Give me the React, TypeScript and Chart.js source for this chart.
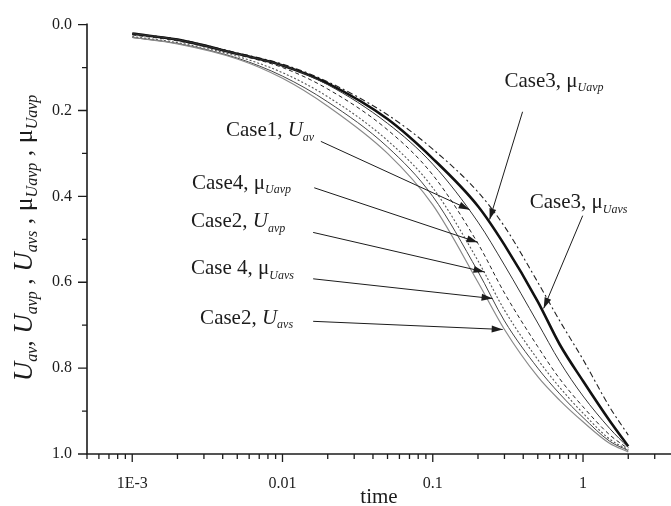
import React, { useEffect, useRef } from "react";
import { Chart, registerables } from "chart.js";

Chart.register(...registerables);

// time values (s) at which the curves were read
const times = [0.001, 0.002, 0.005, 0.01, 0.02, 0.05, 0.1, 0.2, 0.3, 0.5, 0.7, 1, 1.5, 2];

// series values (degree of consolidation)
const case3MuUavp = [0.021, 0.035, 0.068, 0.095, 0.137, 0.22, 0.312, 0.423, 0.513, 0.645, 0.745, 0.83, 0.922, 0.982];
const case3MuUavs = [0.021, 0.034, 0.066, 0.092, 0.133, 0.21, 0.29, 0.39, 0.47, 0.6, 0.69, 0.78, 0.89, 0.956];
const case1Uav = [0.021, 0.035, 0.068, 0.095, 0.14, 0.23, 0.325, 0.46, 0.56, 0.695, 0.785, 0.865, 0.94, 0.985];
const case4MuUavp = [0.024, 0.038, 0.07, 0.1, 0.15, 0.245, 0.35, 0.51, 0.625, 0.75, 0.825, 0.89, 0.955, 0.988];
const case2Uavp = [0.028, 0.042, 0.074, 0.112, 0.168, 0.27, 0.38, 0.55, 0.665, 0.78, 0.845, 0.905, 0.965, 0.99];
const case4MuUavs = [0.03, 0.044, 0.078, 0.12, 0.18, 0.285, 0.4, 0.575, 0.69, 0.8, 0.86, 0.915, 0.97, 0.992];
const case2Uavs = [0.03, 0.045, 0.08, 0.125, 0.19, 0.3, 0.42, 0.6, 0.71, 0.82, 0.875, 0.925, 0.975, 0.995];

// axis ticks
const xMajorTicks = [0.001, 0.01, 0.1, 1];
const xTickLabels = ["1E-3", "0.01", "0.1", "1"];
const xMinorTicks = [
  0.0005, 0.0006, 0.0007, 0.0008, 0.0009,
  0.002, 0.003, 0.004, 0.005, 0.006, 0.007, 0.008, 0.009,
  0.02, 0.03, 0.04, 0.05, 0.06, 0.07, 0.08, 0.09,
  0.2, 0.3, 0.4, 0.5, 0.6, 0.7, 0.8, 0.9,
  2, 3,
];
const yMajorTicks = [0, 0.2, 0.4, 0.6, 0.8, 1.0];
const yTickLabels = ["0.0", "0.2", "0.4", "0.6", "0.8", "1.0"];
const yMinorTicks = [0.1, 0.3, 0.5, 0.7, 0.9];

// annotation texts
const annPrefix = ["Case1, ", "Case4, ", "Case2, ", "Case 4, ", "Case2, ", "Case3, ", "Case3, "];
const annSymbol = ["U", "μ", "U", "μ", "U", "μ", "μ"];
const annSub = ["av", "Uavp", "avp", "Uavs", "avs", "Uavp", "Uavs"];
// annotation anchors in data units (time, value)
const annTextT = [0.0042, 0.0025, 0.00246, 0.00246, 0.00283, 0.3, 0.4415];
const annTextV = [0.247, 0.369, 0.4585, 0.569, 0.684, 0.132, 0.415];
const annFromT = [0.018, 0.01626, 0.016, 0.016, 0.016, 0.396, 0.995];
const annFromV = [0.272, 0.38, 0.484, 0.592, 0.691, 0.203, 0.445];
const annTipT = [0.176, 0.199, 0.221, 0.25, 0.292, 0.239, 0.547];
const annTipV = [0.431, 0.507, 0.576, 0.638, 0.71, 0.454, 0.661];

const SERIF = "'Liberation Serif', 'Times New Roman', serif";
const INK = "#1c1c1c";

function drawRich(ctx: CanvasRenderingContext2D, pieces: { t: string; f: string; dy: number }[], x: number, y: number, align: "left" | "center") {
  let total = 0;
  for (const p of pieces) {
    ctx.font = p.f;
    total += ctx.measureText(p.t).width;
  }
  let cx = align === "left" ? x : x - total / 2;
  ctx.textAlign = "left";
  ctx.textBaseline = "middle";
  for (const p of pieces) {
    ctx.font = p.f;
    ctx.fillText(p.t, cx, y + p.dy);
    cx += ctx.measureText(p.t).width;
  }
}

const decorPlugin = {
  id: "decor",
  afterDraw(chart: any) {
    const ctx: CanvasRenderingContext2D = chart.ctx;
    const xs = chart.scales.x;
    const ys = chart.scales.y;
    const area = chart.chartArea;
    ctx.save();
    ctx.strokeStyle = INK;
    ctx.fillStyle = INK;
    // axes lines
    ctx.lineWidth = 1.6;
    ctx.beginPath();
    ctx.moveTo(area.left, area.top - 1);
    ctx.lineTo(area.left, area.bottom);
    ctx.lineTo(chart.width, area.bottom);
    ctx.stroke();
    // ticks
    ctx.lineWidth = 1.3;
    ctx.beginPath();
    for (const v of xMajorTicks) {
      const px = xs.getPixelForValue(v);
      ctx.moveTo(px, area.bottom);
      ctx.lineTo(px, area.bottom + 8);
    }
    for (const v of xMinorTicks) {
      const px = xs.getPixelForValue(v);
      ctx.moveTo(px, area.bottom);
      ctx.lineTo(px, area.bottom + 5);
    }
    for (const v of yMajorTicks) {
      const py = ys.getPixelForValue(v);
      ctx.moveTo(area.left, py);
      ctx.lineTo(area.left - 9, py);
    }
    for (const v of yMinorTicks) {
      const py = ys.getPixelForValue(v);
      ctx.moveTo(area.left, py);
      ctx.lineTo(area.left - 5, py);
    }
    ctx.stroke();

    // x title
    ctx.font = `21px ${SERIF}`;
    ctx.textAlign = "center";
    ctx.textBaseline = "alphabetic";
    ctx.fillText("time", (area.left + area.right) / 2, 503);

    // y title (rotated)
    ctx.save();
    ctx.translate(25, 238);
    ctx.rotate(-Math.PI / 2);
    const big = `italic 27px ${SERIF}`;
    const reg = `26px ${SERIF}`;
    const sub = `italic 16px ${SERIF}`;
    drawRich(
      ctx,
      [
        { t: "U", f: big, dy: 0 },
        { t: "av", f: sub, dy: 8 },
        { t: ", ", f: reg, dy: 0 },
        { t: "U", f: big, dy: 0 },
        { t: "avp", f: sub, dy: 8 },
        { t: " , ", f: reg, dy: 0 },
        { t: "U", f: big, dy: 0 },
        { t: "avs", f: sub, dy: 8 },
        { t: " , ", f: reg, dy: 0 },
        { t: "μ", f: reg, dy: 0 },
        { t: "Uavp", f: sub, dy: 8 },
        { t: " , ", f: reg, dy: 0 },
        { t: "μ", f: reg, dy: 0 },
        { t: "Uavp", f: sub, dy: 8 },
      ],
      0,
      0,
      "center"
    );
    ctx.restore();

    // annotations
    for (let i = 0; i < annPrefix.length; i++) {
      const tx = xs.getPixelForValue(annTextT[i]);
      const ty = ys.getPixelForValue(annTextV[i]);
      const symFont = annSymbol[i] === "U" ? `italic 21px ${SERIF}` : `21px ${SERIF}`;
      drawRich(
        ctx,
        [
          { t: annPrefix[i], f: `21px ${SERIF}`, dy: 0 },
          { t: annSymbol[i], f: symFont, dy: 0 },
          { t: annSub[i], f: `italic 12px ${SERIF}`, dy: 7 },
        ],
        tx,
        ty,
        "left"
      );
      const fx = xs.getPixelForValue(annFromT[i]);
      const fy = ys.getPixelForValue(annFromV[i]);
      const px = xs.getPixelForValue(annTipT[i]);
      const py = ys.getPixelForValue(annTipV[i]);
      ctx.lineWidth = 1;
      ctx.beginPath();
      ctx.moveTo(fx, fy);
      ctx.lineTo(px, py);
      ctx.stroke();
      const ang = Math.atan2(py - fy, px - fx);
      const L = 11;
      const W = 3.5;
      const bx = px - L * Math.cos(ang);
      const by = py - L * Math.sin(ang);
      ctx.beginPath();
      ctx.moveTo(px, py);
      ctx.lineTo(bx + W * Math.sin(ang), by - W * Math.cos(ang));
      ctx.lineTo(bx - W * Math.sin(ang), by + W * Math.cos(ang));
      ctx.closePath();
      ctx.fill();
    }
    ctx.restore();
  },
};

function series(values: number[]) {
  return times.map((t, i) => ({ x: t, y: values[i] }));
}

export default function App() {
  const ref = useRef<HTMLCanvasElement | null>(null);
  useEffect(() => {
    if (!ref.current) return;
    const common = { pointRadius: 0, fill: false, cubicInterpolationMode: "monotone" as const };
    const chart = new Chart(ref.current, {
      type: "line",
      data: {
        datasets: [
          { ...common, label: "Case2, Uavs", data: series(case2Uavs), borderColor: "#8a8a8a", borderWidth: 1.2 },
          { ...common, label: "Case 4, μUavs", data: series(case4MuUavs), borderColor: "#444", borderWidth: 1 },
          { ...common, label: "Case2, Uavp", data: series(case2Uavp), borderColor: "#555", borderWidth: 1.1, borderDash: [2, 2] },
          { ...common, label: "Case4, μUavp", data: series(case4MuUavp), borderColor: "#222", borderWidth: 1, borderDash: [4, 3] },
          { ...common, label: "Case1, Uav", data: series(case1Uav), borderColor: "#333", borderWidth: 1 },
          { ...common, label: "Case3, μUavp", data: series(case3MuUavp), borderColor: "#111", borderWidth: 2.6 },
          { ...common, label: "Case3, μUavs", data: series(case3MuUavs), borderColor: "#222", borderWidth: 1.1, borderDash: [6, 3, 2, 3] },
        ],
      },
      options: {
        animation: false,
        responsive: false,
        devicePixelRatio: 1,
        layout: { padding: { top: 20, left: 0, right: 0, bottom: 0 } },
        plugins: { legend: { display: false }, tooltip: { enabled: false } },
        scales: {
          x: {
            type: "logarithmic",
            min: 0.0005,
            max: 3.85,
            grid: { display: false, drawTicks: false },
            border: { display: false },
            afterBuildTicks: (s: any) => {
              s.ticks = xMajorTicks.map((v) => ({ value: v }));
            },
            afterFit: (s: any) => {
              s.height = 52;
            },
            ticks: {
              autoSkip: false,
              maxRotation: 0,
              padding: 20,
              color: INK,
              font: { family: SERIF, size: 16 },
              callback: (_v: any, i: number) => xTickLabels[i],
            },
          },
          y: {
            type: "linear",
            reverse: true,
            min: 0,
            max: 1,
            grid: { display: false, drawTicks: false },
            border: { display: false },
            afterBuildTicks: (s: any) => {
              s.ticks = yMajorTicks.map((v) => ({ value: v }));
            },
            afterFit: (s: any) => {
              s.width = 87;
            },
            ticks: {
              padding: 15,
              color: INK,
              font: { family: SERIF, size: 16 },
              callback: (_v: any, i: number) => yTickLabels[i],
            },
          },
        },
      },
      plugins: [decorPlugin],
    });
    return () => chart.destroy();
  }, []);
  return (
    <div style={{ position: "absolute", left: 0, top: 0, width: 671, height: 506, background: "#fff" }}>
      <canvas ref={ref} width={671} height={506} style={{ display: "block" }} />
    </div>
  );
}
